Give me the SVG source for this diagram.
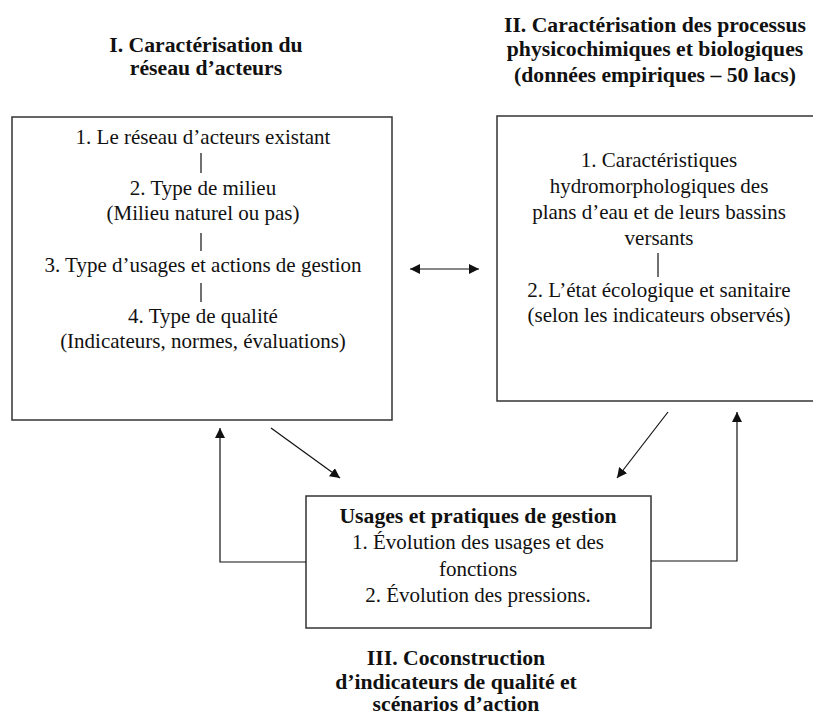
<svg xmlns="http://www.w3.org/2000/svg" width="813" height="718" viewBox="0 0 813 718">
<style>
text{font-family:"Liberation Serif","Times New Roman",serif;fill:#111;text-anchor:middle}
.t{font-size:21px}
.b{font-size:21.7px;font-weight:bold}
.box{fill:#fff;stroke:#333;stroke-width:1.5}
.ln{stroke:#111;stroke-width:1.2;fill:none}
</style>
<defs>
<marker id="ah" viewBox="0 0 10 10" refX="10" refY="5" markerWidth="10" markerHeight="10" markerUnits="userSpaceOnUse" orient="auto-start-reverse">
<path d="M0,0 L10,5 L0,10 z" fill="#111"/>
</marker>
</defs>
<rect width="813" height="718" fill="#fff"/>
<g id="title1">
<text class="b" x="206" y="52">I. Caractérisation du</text>
<text class="b" x="206" y="75">réseau  d’acteurs</text>
</g>
<g id="title2">
<text class="b" x="655" y="32">II. Caractérisation des processus</text>
<text class="b" x="655" y="56">physicochimiques et biologiques</text>
<text class="b" x="655" y="82">(données empiriques – 50 lacs)</text>
</g>
<g id="title3">
<text class="b" x="456" y="665">III. Coconstruction</text>
<text class="b" x="456" y="689">d’indicateurs de qualité  et</text>
<text class="b" x="456" y="711">scénarios d’action</text>
</g>
<g id="box1">
<rect class="box" x="12" y="117" width="380" height="303"/>
<text class="t" x="203" y="144">1. Le réseau d’acteurs existant</text>
<line class="ln" x1="201" y1="153" x2="201" y2="173"/>
<text class="t" x="203" y="195">2. Type de milieu</text>
<text class="t" x="203" y="220">(Milieu naturel ou pas)</text>
<line class="ln" x1="201" y1="233" x2="201" y2="251"/>
<text class="t" x="203" y="272">3. Type d’usages et actions de gestion</text>
<line class="ln" x1="201" y1="283" x2="201" y2="302"/>
<text class="t" x="203" y="323">4. Type de qualité</text>
<text class="t" x="203" y="348">(Indicateurs, normes, évaluations)</text>
</g>
<g id="box2">
<rect class="box" x="497" y="116" width="318" height="285"/>
<text class="t" x="659" y="167">1. Caractéristiques</text>
<text class="t" x="659" y="193">hydromorphologiques des</text>
<text class="t" x="659" y="219">plans d’eau et de leurs bassins</text>
<text class="t" x="659" y="245">versants</text>
<line class="ln" x1="658" y1="253" x2="658" y2="277"/>
<text class="t" x="659" y="297">2.  L’état écologique et sanitaire</text>
<text class="t" x="659" y="322">(selon les indicateurs observés)</text>
</g>
<g id="box3">
<rect class="box" x="306" y="496" width="345" height="132"/>
<text class="b" x="478" y="523">Usages et pratiques de gestion</text>
<text class="t" x="478" y="549">1. Évolution des usages et des</text>
<text class="t" x="478" y="576">fonctions</text>
<text class="t" x="478" y="602">2. Évolution des pressions.</text>
</g>
<g id="connectors">
<line class="ln" x1="410" y1="269" x2="479" y2="269" marker-start="url(#ah)" marker-end="url(#ah)"/>
<line class="ln" x1="271" y1="428" x2="340" y2="478" marker-end="url(#ah)"/>
<line class="ln" x1="668" y1="412" x2="617" y2="478" marker-end="url(#ah)"/>
<polyline class="ln" points="306,562 220,562 220,428" marker-end="url(#ah)"/>
<polyline class="ln" points="651,561 737,561 737,412" marker-end="url(#ah)"/>
</g>
</svg>
